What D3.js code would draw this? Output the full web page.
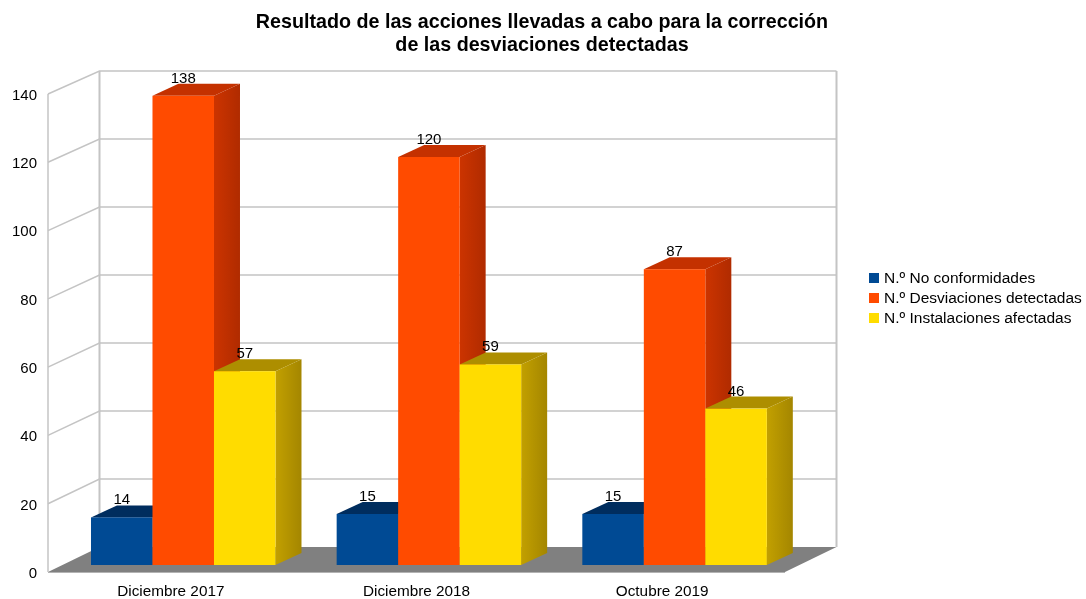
<!DOCTYPE html>
<html>
<head>
<meta charset="utf-8">
<script src="https://d3js.org/d3.v7.min.js"></script>
<style>
  html, body { margin: 0; padding: 0; background: #fff; }
  svg { filter: blur(0.4px); }
  text { font-family: "Liberation Sans", Arial, sans-serif; fill: #000; }
</style>
</head>
<body>
<div id="plot"></div>
<script>
// data
const categories = ["Diciembre 2017", "Diciembre 2018", "Octubre 2019"];
const seriesNames = ["N.º No conformidades", "N.º Desviaciones detectadas", "N.º Instalaciones afectadas"];
const noConformidades = [14, 15, 15];
const desviaciones = [138, 120, 87];
const instalaciones = [57, 59, 46];
const seriesValues = [noConformidades, desviaciones, instalaciones];
const titleLines = ["Resultado de las acciones llevadas a cabo para la corrección", "de las desviaciones detectadas"];

const front = ["#004a94", "#ff4b00", "#ffdc00"];
const topFace = ["#002d5e", "#c43100", "#ad8e00"];
const sideFrom = ["#003a75", "#cc3400", "#c2a000"];
const sideTo = ["#002d5e", "#b02b00", "#a48600"];

const width = 1086;
const height = 599;

// the box: front edge of the floor and the back wall are offset in depth
const wallX = [48, 785];
const depthX = 51.5;
const barDepthX = 26;
const barDepthY = 12;

const svg = d3.select("div#plot")
  .append("svg")
  .attr("width", width)
  .attr("height", height)
  .style("display", "block");

const yFront = d3.scaleLinear().domain([0, 140]).range([572, 94]);
const yBack = d3.scaleLinear().domain([0, 140]).range([547, 71]);
const yBar = d3.scaleLinear().domain([0, 140]).range([565, 89]);

const x0 = d3.scaleBand().domain(categories).range(wallX);
const bw = x0.bandwidth();
const x1 = d3.scaleBand().domain(d3.range(seriesNames.length)).range([bw * 0.175, bw * 0.926]);

// side gradients
const defs = svg.append("defs");
seriesNames.forEach((s, i) => {
  const g = defs.append("linearGradient").attr("id", "side" + i);
  g.append("stop").attr("offset", "0%").attr("stop-color", sideFrom[i]);
  g.append("stop").attr("offset", "100%").attr("stop-color", sideTo[i]);
});

const ticks = yFront.ticks(7);
const backLeft = wallX[0] + depthX;
const backRight = wallX[1] + depthX;

// floor
svg.append("polygon")
  .attr("points", [
    [wallX[0], yFront(0)], [wallX[1], yFront(0)],
    [backRight, yBack(0)], [backLeft, yBack(0)]
  ].join(" "))
  .attr("fill", "#808080");

// grid on the left wall and back wall
const grid = svg.append("g")
  .attr("fill", "none")
  .attr("stroke", "#c4c4c4")
  .attr("stroke-width", 1.5);

grid.selectAll("polyline")
  .data(ticks.filter(d => d > 0))
  .enter().append("polyline")
  .attr("points", d => [[wallX[0], yFront(d)], [backLeft, yBack(d)], [backRight, yBack(d)]].join(" "));

grid.append("line")
  .attr("x1", wallX[0]).attr("y1", yFront(0))
  .attr("x2", wallX[0]).attr("y2", yFront(140));
grid.append("line")
  .attr("x1", backLeft).attr("y1", yBack(0))
  .attr("x2", backLeft).attr("y2", yBack(140))
  .attr("stroke-width", 2);
grid.append("line")
  .attr("x1", backRight).attr("y1", yBack(0))
  .attr("x2", backRight).attr("y2", yBack(140))
  .attr("stroke-width", 2);
svg.append("line")
  .attr("x1", wallX[0]).attr("y1", yFront(0) + 0.5)
  .attr("x2", wallX[1]).attr("y2", yFront(0) + 0.5)
  .attr("stroke", "#b3b3b3");

// value axis labels
const yAxis = svg.append("g")
  .attr("transform", "translate(42,0.5)")
  .call(d3.axisLeft(yFront).tickValues(ticks).tickSize(0).tickPadding(5));
yAxis.select(".domain").remove();
yAxis.selectAll("text").style("font-size", "15px").style("font-family", '"Liberation Sans"');

// category labels
const xAxis = svg.append("g")
  .attr("transform", "translate(0,582)")
  .call(d3.axisBottom(x0).tickSize(0).tickPadding(3));
xAxis.select(".domain").remove();
xAxis.selectAll("text").style("font-size", "15.3px").style("font-family", '"Liberation Sans"');

// bars, drawn left to right so each one covers the side of the previous
const groups = svg.selectAll(".group")
  .data(categories)
  .enter().append("g")
  .attr("class", "group")
  .attr("transform", d => `translate(${x0(d)},0)`);

groups.each(function(cat, c) {
  const g = d3.select(this);
  seriesNames.forEach((s, i) => {
    const v = seriesValues[i][c];
    const l = x1(i);
    const r = l + x1.bandwidth();
    const t = yBar(v);
    const b = yBar(0);

    g.append("polygon")
      .attr("points", [[l, t], [r, t], [r + barDepthX, t - barDepthY], [l + barDepthX, t - barDepthY]].join(" "))
      .attr("fill", topFace[i]);
    g.append("polygon")
      .attr("points", [[r, t], [r + barDepthX, t - barDepthY], [r + barDepthX, b - barDepthY], [r, b]].join(" "))
      .attr("fill", `url(#side${i})`);
    g.append("rect")
      .attr("x", l)
      .attr("y", t)
      .attr("width", x1.bandwidth())
      .attr("height", b - t)
      .attr("fill", front[i]);
  });
});

// value labels on top of everything
groups.each(function(cat, c) {
  seriesNames.forEach((s, i) => {
    const v = seriesValues[i][c];
    d3.select(this).append("text")
      .attr("x", x1(i) + x1.bandwidth() / 2)
      .attr("y", yBar(v) - 13)
      .attr("text-anchor", "middle")
      .style("font-size", "15px")
      .text(v);
  });
});

// title
svg.append("g").selectAll("text")
  .data(titleLines)
  .enter().append("text")
  .attr("x", 542)
  .attr("y", (d, i) => 28 + i * 22.5)
  .attr("text-anchor", "middle")
  .style("font-size", "19.7px")
  .style("font-weight", "bold")
  .text(d => d);

// legend
const legend = svg.selectAll(".legend")
  .data(seriesNames)
  .enter().append("g")
  .attr("class", "legend")
  .attr("transform", (d, i) => `translate(869,${278 + i * 20})`);

legend.append("rect")
  .attr("y", -5)
  .attr("width", 10)
  .attr("height", 10)
  .attr("fill", (d, i) => front[i]);

legend.append("text")
  .attr("x", 15)
  .attr("dy", ".35em")
  .style("font-size", "15.5px")
  .text(d => d);
</script>
</body>
</html>
